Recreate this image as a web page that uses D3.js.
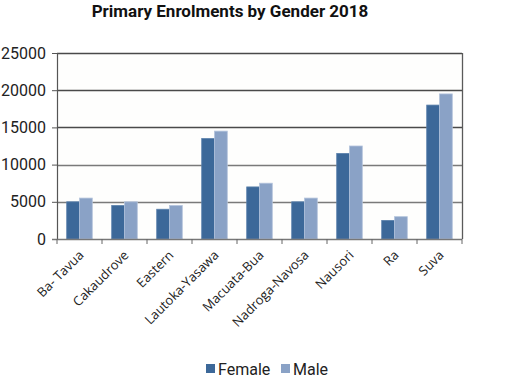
<!DOCTYPE html>
<html><head><meta charset="utf-8">
<script src="https://cdn.jsdelivr.net/npm/d3@7"></script>
<style>body{margin:0;background:#fff}svg{display:block}</style>
</head><body>
<script>
const categories = ["Ba- Tavua","Cakaudrove","Eastern","Lautoka-Yasawa","Macuata-Bua","Nadroga-Navosa","Nausori","Ra","Suva"];
const female = [5000,4500,4000,13500,7000,5000,11500,2500,18000];
const male = [5500,5000,4500,14500,7500,5500,12500,3000,19500];
const yTicks = [0,5000,10000,15000,20000,25000];
const seriesNames = ["Female","Male"];
const colors = ["#3c6899","#8aa2c6"];

const W=506,H=382;
const m={l:57,r:44,t:53,b:143};
const svg=d3.select("body").append("svg").attr("width",W).attr("height",H);
svg.append("rect").attr("width",W).attr("height",H).attr("fill","#fff");
svg.append("rect").attr("x",m.l).attr("y",m.t).attr("width",W-m.l-m.r).attr("height",H-m.t-m.b).attr("fill","#fefefd");

const x=d3.scaleBand().domain(categories).range([m.l,W-m.r]).paddingInner(0).paddingOuter(0);
const y=d3.scaleLinear().domain([0,25000]).range([H-m.b,m.t]);
const inner=d3.scaleBand().domain(seriesNames).range([0,x.bandwidth()]).paddingInner(0).paddingOuter(0.76);

svg.append("text").attr("x",230).attr("y",17).attr("text-anchor","middle")
  .attr("font-family","Roboto").attr("font-weight","bold").attr("font-size",17).attr("fill","#111")
  .text("Primary Enrolments by Gender 2018");

// gridlines
svg.append("g").selectAll("line").data(yTicks.filter(d=>d>0)).join("line")
  .attr("x1",m.l).attr("x2",W-m.r).attr("y1",d=>Math.round(y(d))+0.5).attr("y2",d=>Math.round(y(d))+0.5)
  .attr("stroke",d=>d>=15000?"#4a4a4a":"#7a7a7a").attr("stroke-width",1.3);
// right border
svg.append("line").attr("x1",W-m.r+0.5).attr("x2",W-m.r+0.5).attr("y1",m.t).attr("y2",H-m.b)
  .attr("stroke","#5a5a5a").attr("stroke-width",1.3);

// bars
const data=[female,male];
const g=svg.append("g");
seriesNames.forEach((s,si)=>{
  g.selectAll(".b"+si).data(categories).join("rect")
    .attr("x",c=>x(c)+inner(s))
    .attr("y",(c,i)=>y(data[si][i]))
    .attr("width",inner.bandwidth())
    .attr("height",(c,i)=>y(0)-y(data[si][i]))
    .attr("fill",colors[si])
    .attr("stroke",si===0?"#5a80ab":"#b4c4dc").attr("stroke-width",0.8);
});

// y axis
const ya=svg.append("g").attr("transform",`translate(${m.l},0)`)
  .call(d3.axisLeft(y).tickValues(yTicks).tickSize(5).tickPadding(6).tickFormat(d3.format("d")));
ya.select(".domain").attr("stroke","#555").attr("stroke-width",1.2);
ya.selectAll(".tick line").attr("stroke","#555");
ya.selectAll("text").attr("font-family","Roboto").attr("font-size",16).attr("fill","#222");

// x axis
const xa=svg.append("g").attr("transform",`translate(0,${H-m.b})`);
xa.append("line").attr("x1",m.l-5).attr("x2",W-m.r).attr("y1",0.5).attr("y2",0.5).attr("stroke","#777").attr("stroke-width",1.5);
const bounds=categories.map(c=>x(c)).concat([W-m.r]);
xa.selectAll(".tk").data(bounds).join("line")
  .attr("x1",d=>d).attr("x2",d=>d).attr("y1",0).attr("y2",5).attr("stroke","#666");
xa.selectAll(".lbl").data(categories).join("text")
  .attr("transform",c=>`translate(${x(c)+x.bandwidth()/2+5},${17}) rotate(-45)`)
  .attr("text-anchor","end").attr("font-family","Open Sans").attr("font-size",13).attr("fill","#222")
  .text(c=>c);

// legend
const lg=svg.append("g").attr("transform","translate(0,369)");
const items=[{n:"Female",x:206},{n:"Male",x:281}];
items.forEach((it,i)=>{
  lg.append("rect").attr("x",it.x).attr("y",-5).attr("width",9).attr("height",9).attr("fill",colors[i]);
  lg.append("text").attr("x",it.x+12).attr("y",5.5).attr("font-family","Roboto").attr("font-size",16).attr("fill","#222").text(it.n);
});
</script>
</body></html>
